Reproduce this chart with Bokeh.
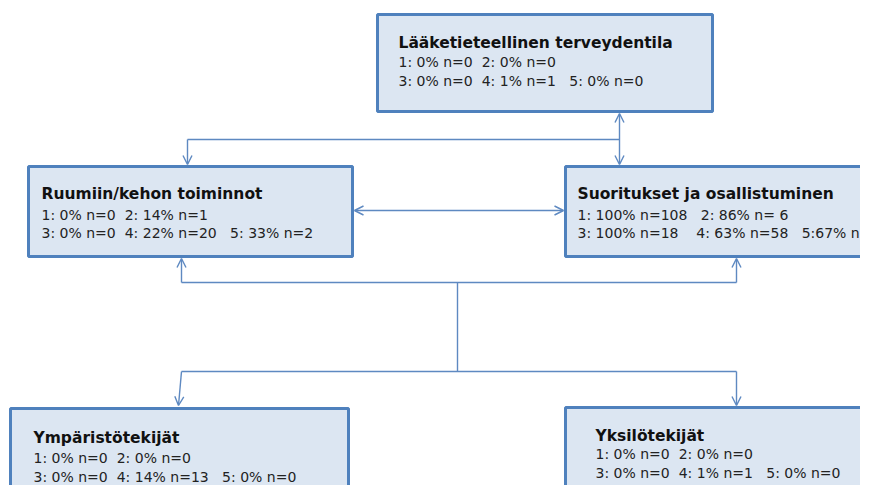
from bokeh.plotting import figure
from bokeh.models import Range1d, Arrow, OpenHead, ColumnDataSource
from bokeh.core.properties import value
from bokeh.embed import file_html
from bokeh.resources import INLINE

# ---- data ----
titles = [
    "Lääketieteellinen terveydentila",
    "Ruumiin/kehon toiminnot",
    "Suoritukset ja osallistuminen",
    "Ympäristötekijät",
    "Yksilötekijät",
]
stats_line1 = [
    "1: 0% n=0  2: 0% n=0",
    "1: 0% n=0  2: 14% n=1",
    "1: 100% n=108   2: 86% n= 6",
    "1: 0% n=0  2: 0% n=0",
    "1: 0% n=0  2: 0% n=0",
]
stats_line2 = [
    "3: 0% n=0  4: 1% n=1   5: 0% n=0",
    "3: 0% n=0  4: 22% n=20   5: 33% n=2",
    "3: 100% n=18    4: 63% n=58   5:67% n=4",
    "3: 0% n=0  4: 14% n=13   5: 0% n=0",
    "3: 0% n=0  4: 1% n=1   5: 0% n=0",
]

# ---- layout (page pixel coordinates) ----
box_left = [377, 28, 565, 10, 565]
box_right = [712, 352, 905, 348, 905]
box_top = [14, 166, 166, 408, 407]
box_bottom = [111, 256, 256, 530, 530]
text_x = [398, 41, 577, 33, 595]
title_y = [42, 193, 193, 437, 435]
l1_y = [61, 214, 214, 457, 453]
l2_y = [80, 232, 232, 476, 472]

BORDER = "#4f81bd"
FILL = "#dce6f2"
CONN = "#5e89c1"
FONT = "DejaVu Sans"


def keep_spaces(s):
    # SVG collapses runs of spaces; keep them visible
    return s.replace("  ", " \u00a0")


p = figure(width=860, height=485, output_backend="svg", toolbar_location=None,
           x_range=Range1d(0, 860), y_range=Range1d(485, 0),
           min_border=0, outline_line_color=None, background_fill_color="white",
           border_fill_color="white")
p.axis.visible = False
p.grid.visible = False

src = ColumnDataSource(dict(left=box_left, right=box_right, top=box_top, bottom=box_bottom,
                            x=text_x, ty=title_y, y1=l1_y, y2=l2_y,
                            title=titles,
                            s1=[keep_spaces(s) for s in stats_line1],
                            s2=[keep_spaces(s) for s in stats_line2]))

p.quad(left="left", right="right", top="top", bottom="bottom", source=src,
       fill_color=FILL, line_color=BORDER, line_width=3)

p.text(x="x", y="ty", text="title", source=src, text_font=value(FONT),
       text_font_style="bold", text_font_size="15.5px", text_color="#111111",
       text_baseline="middle", text_align="left")
p.text(x="x", y="y1", text="s1", source=src, text_font=value(FONT),
       text_font_size="14px", text_color="#222222",
       text_baseline="middle", text_align="left")
p.text(x="x", y="y2", text="s2", source=src, text_font=value(FONT),
       text_font_size="14px", text_color="#222222",
       text_baseline="middle", text_align="left")

# plain connector lines
p.multi_line(xs=[[619, 187], [181, 736], [457, 457], [181, 736]],
             ys=[[139, 139], [282, 282], [282, 371], [371, 371]],
             line_color=CONN, line_width=1.4)


def arrow(x0, y0, x1, y1, both=False):
    kw = dict(x_start=x0, y_start=y0, x_end=x1, y_end=y1,
              line_color=CONN, line_width=1.4,
              end=OpenHead(size=9, line_color=CONN, line_width=1.4))
    kw["start"] = OpenHead(size=9, line_color=CONN, line_width=1.4) if both else None
    p.add_layout(Arrow(**kw))


arrow(619, 113, 619, 164, both=True)
arrow(187, 139, 187, 164)
arrow(354, 210, 563, 210, both=True)
arrow(181, 282, 181, 258)
arrow(736, 282, 736, 258)
arrow(181, 371, 178, 405)
arrow(736, 371, 736, 405)

open("out.html", "w").write(file_html(p, INLINE))
